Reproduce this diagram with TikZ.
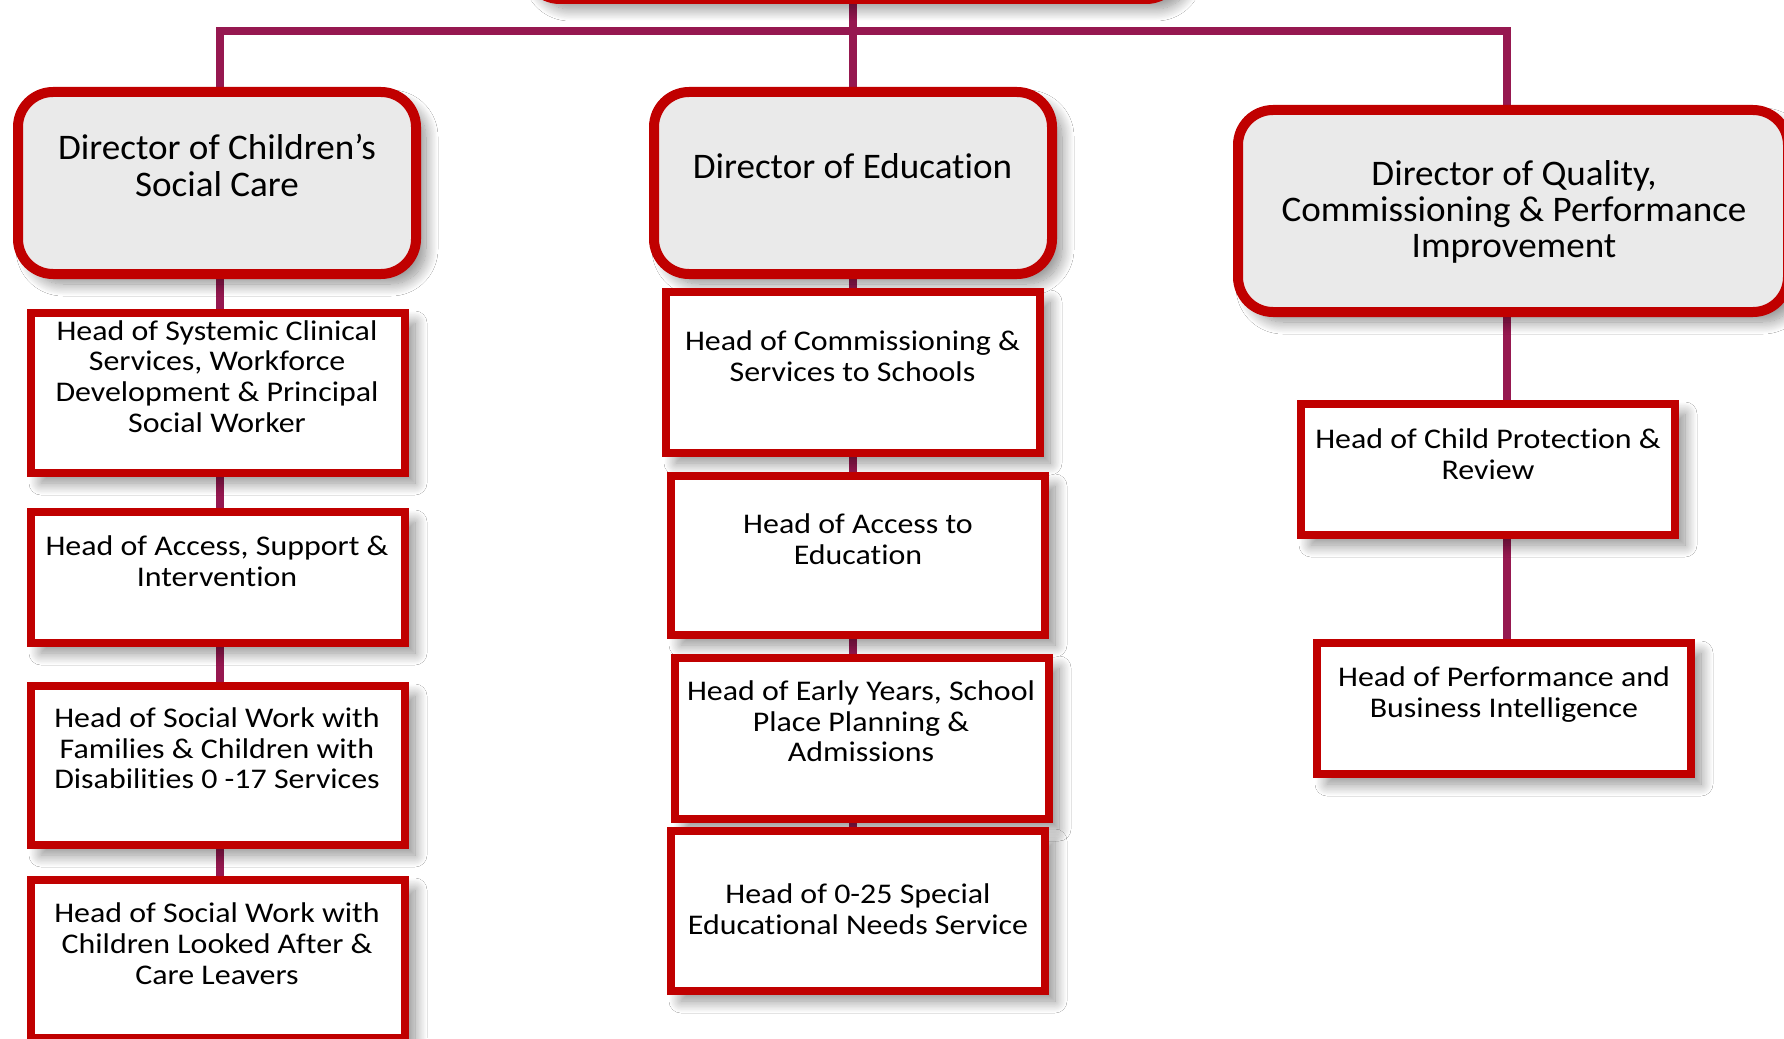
\documentclass[tikz,border=0pt]{standalone}
\usepackage{fontspec}
\setmainfont{Carlito}[Ligatures=NoCommon]
\newfontfamily\headfont{Carlito}[Ligatures=NoCommon, FakeStretch=1.12]
\newfontfamily\dirfont{Carlito}[Ligatures=NoCommon, FakeStretch=1.03]
\usetikzlibrary{shadows.blur}
\definecolor{linecol}{RGB}{150,24,80}
\definecolor{boxred}{RGB}{192,0,0}
\definecolor{dirfill}{RGB}{234,234,234}
\pgfdeclarelayer{bg}
\pgfsetlayers{bg,main}
\tikzset{
  conn/.style={draw=linecol, line width=8pt},
  shad/.style={blur shadow={shadow xshift=10pt, shadow yshift=-10pt, shadow blur radius=12pt, shadow blur steps=20, shadow opacity=45}},
  sz/.style 2 args={minimum width=#1pt, minimum height=#2pt},
  dirbox/.style={draw=boxred, line width=10pt, fill=dirfill, rounded corners=35pt, inner sep=0pt, shad},
  headbox/.style={draw=boxred, line width=8pt, fill=white, inner sep=0pt, shad},
  dirtext/.style={font=\dirfont\fontsize{36}{36.4}\selectfont, align=center, inner sep=0pt},
  headtext/.style={font=\headfont\fontsize{28.5}{30.7}\selectfont, align=center, inner sep=0pt},
}
\begin{document}
\begin{tikzpicture}[x=1pt,y=-1pt]
\useasboundingbox (0,0) rectangle (1784,1038);
\clip (0,0) rectangle (1784,1038);

% boxes
\node[dirbox, sz={656}{194}] (top) at (853,-98) {};
\node[dirbox, sz={398}{182}] (dcsc) at (217,183) {};
\node[dirbox, sz={398}{182}] (ded) at (853,183) {};
\node[dirbox, sz={550}{202}] (dqcp) at (1513,211) {};

\node[headbox, sz={374}{160}] (h1) at (218,393) {};
\node[headbox, sz={374}{131}] (h2) at (218,577.5) {};
\node[headbox, sz={374}{159}] (h3) at (218,765.5) {};
\node[headbox, sz={374}{158}] (h4) at (218,959) {};

\node[headbox, sz={374}{161}] (m1) at (853,372.5) {};
\node[headbox, sz={374}{159}] (m2) at (858,555.5) {};
\node[headbox, sz={374}{161}] (m3) at (862,738.5) {};
\node[headbox, sz={374}{160}] (m4) at (858,911) {};

\node[headbox, sz={374}{131}] (r1) at (1488,469.5) {};
\node[headbox, sz={374}{131}] (r2) at (1504,708.5) {};

% texts
\node[dirtext] (dcsc-t) at (217,165.5) {Director of Children’s\\Social Care};
\node[dirtext] (ded-t) at (852.5,166.5) {Director of Education};
\node[dirtext] (dqcp-t) at (1514,212) {Director of Quality,\\Commissioning \& Performance\\Improvement};

\node[headtext] (h1-t) at (217,376.5) {Head of Systemic Clinical\\Services, Workforce\\Development \& Principal\\Social Worker};
\node[headtext] (h2-t) at (217,561) {Head of Access, Support \&\\Intervention};
\node[headtext] (h3-t) at (217,748.5) {Head of Social Work with\\Families \& Children with\\Disabilities 0 -17 Services};
\node[headtext] (h4-t) at (217,943.5) {Head of Social Work with\\Children Looked After \&\\Care Leavers};

\node[headtext] (m1-t) at (852.5,356.5) {Head of Commissioning \&\\Services to Schools};
\node[headtext] (m2-t) at (858,539.5) {Head of Access to\\Education};
\node[headtext] (m3-t) at (861,721.5) {Head of Early Years, School\\Place Planning \&\\Admissions};
\node[headtext] (m4-t) at (858,909) {Head of 0-25 Special\\Educational Needs Service};

\node[headtext] (r1-t) at (1488,454.5) {Head of Child Protection \&\\Review};
\node[headtext] (r2-t) at (1504,694.5) {Head of Performance and\\Business Intelligence};

% connectors
\coordinate (busL) at (220,31);
\coordinate (busM) at (853,31);
\coordinate (busR) at (1507,31);
\begin{pgfonlayer}{bg}
\fill[white] (0,0) rectangle (1784,1038);
\draw[conn] (busL |- dcsc.north) -- (busL) -- (busR) -- (busR |- dqcp.north);
\draw[conn] (top.south) -- (ded.north);
\draw[conn] (busL |- dcsc.south) -- (busL |- h1.north);
\draw[conn] (busL |- h1.south) -- (busL |- h2.north);
\draw[conn] (busL |- h2.south) -- (busL |- h3.north);
\draw[conn] (busL |- h3.south) -- (busL |- h4.north);
\draw[conn] (busM |- ded.south) -- (busM |- m1.north);
\draw[conn] (busM |- m1.south) -- (busM |- m2.north);
\draw[conn] (busM |- m2.south) -- (busM |- m3.north);
\draw[conn] (busM |- m3.south) -- (busM |- m4.north);
\draw[conn] (busR |- dqcp.south) -- (busR |- r1.north);
\draw[conn] (busR |- r1.south) -- (busR |- r2.north);
\end{pgfonlayer}
\end{tikzpicture}
\end{document}
